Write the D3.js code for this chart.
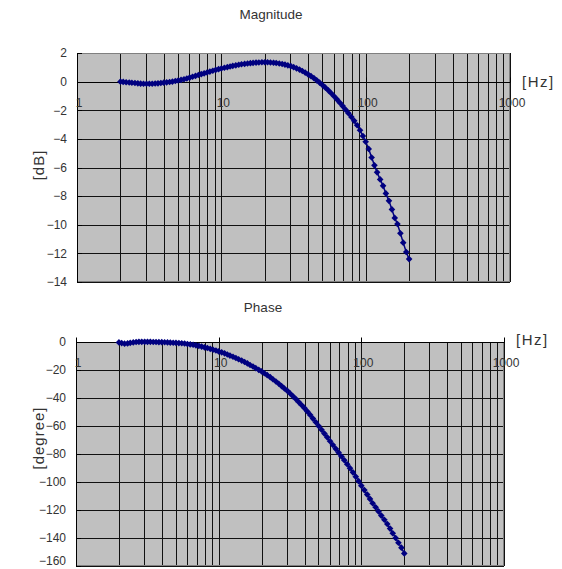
<!DOCTYPE html>
<html>
<head>
<meta charset="utf-8">
<script src="https://cdn.jsdelivr.net/npm/d3@7"></script>
<style>
  html, body { margin: 0; padding: 0; background: #fff; }
  svg { display: block; }
  text { font-family: "Liberation Sans", Arial, sans-serif; fill: #333; }
</style>
</head>
<body>
<svg id="chart" width="562" height="569"></svg>
<script>
// Measured sweep frequencies [Hz]
const freq = [
  2.00, 2.09, 2.19, 2.30, 2.40, 2.52, 2.64, 2.76, 2.89, 3.03,
  3.17, 3.32, 3.48, 3.64, 3.81, 3.99, 4.18, 4.38, 4.58, 4.80,
  5.02, 5.26, 5.51, 5.77, 6.04, 6.32, 6.62, 6.93, 7.26, 7.60,
  7.96, 8.33, 8.73, 9.14, 9.57, 10.0, 10.5, 11.0, 11.5, 12.0,
  12.6, 13.2, 13.8, 14.5, 15.2, 15.9, 16.6, 17.4, 18.2, 19.1,
  20.0, 20.9, 21.9, 23.0, 24.0, 25.2, 26.4, 27.6, 28.9, 30.3,
  31.7, 33.2, 34.8, 36.4, 38.1, 39.9, 41.8, 43.8, 45.8, 48.0,
  50.2, 52.6, 55.1, 57.7, 60.4, 63.2, 66.2, 69.3, 72.6, 76.0,
  79.6, 83.3, 87.3, 91.4, 95.7, 100, 105, 110, 115, 120,
  126, 132, 138, 145, 152, 159, 166, 174, 182, 191,
  200
];

// Gain [dB]
const magnitude = [
  0.00, -0.02, -0.04, -0.06, -0.08, -0.10, -0.12, -0.14, -0.15, -0.15,
  -0.15, -0.15, -0.13, -0.12, -0.10, -0.07, -0.05, -0.03, 0.00, 0.04,
  0.08, 0.12, 0.17, 0.22, 0.28, 0.34, 0.40, 0.46, 0.52, 0.58,
  0.64, 0.70, 0.76, 0.82, 0.87, 0.92, 0.97, 1.01, 1.06, 1.10,
  1.14, 1.18, 1.21, 1.24, 1.27, 1.29, 1.31, 1.33, 1.34, 1.35,
  1.35, 1.35, 1.34, 1.32, 1.30, 1.27, 1.23, 1.19, 1.14, 1.08,
  1.01, 0.93, 0.84, 0.74, 0.63, 0.51, 0.38, 0.24, 0.09, -0.07,
  -0.24, -0.42, -0.61, -0.81, -1.02, -1.24, -1.47, -1.71, -1.96, -2.21,
  -2.47, -2.74, -3.05, -3.40, -3.80, -4.20, -4.70, -5.30, -5.85, -6.34,
  -6.83, -7.28, -7.81, -8.33, -8.93, -9.52, -9.95, -10.60, -11.25, -11.90,
  -12.40
];

// Phase [degree]
const phase = [
  -0.3, -0.8, -1.2, -1.0, -0.6, -0.3, 0.0, 0.1, 0.1, 0.1,
  0.1, 0.1, 0.0, 0.0, -0.1, -0.1, -0.2, -0.3, -0.4, -0.5,
  -0.6, -0.8, -0.9, -1.1, -1.4, -1.7, -2.0, -2.4, -2.8, -3.3,
  -3.8, -4.3, -4.9, -5.5, -6.1, -6.7, -7.4, -8.1, -8.9, -9.7,
  -10.5, -11.4, -12.3, -13.3, -14.3, -15.3, -16.4, -17.5, -18.7, -19.9,
  -21.0, -22.3, -23.7, -25.1, -26.6, -28.2, -29.8, -31.5, -33.2, -34.9,
  -36.8, -38.8, -40.8, -42.9, -45.0, -47.2, -49.6, -52.1, -54.7, -57.3,
  -60.0, -62.7, -65.4, -68.1, -70.9, -73.6, -76.3, -79.0, -81.8, -84.5,
  -87.3, -90.1, -93.1, -96.2, -99.4, -102.6, -105.8, -109.0, -112.1, -115.2,
  -118.0, -121.0, -124.0, -127.0, -130.0, -133.3, -136.6, -140.0, -143.4, -146.9,
  -151.0
];

// Axis ticks
const xMajor = [1, 10, 100, 1000];
const xMajorLabels = ["1", "10", "100", "1000"];
const magTicks = [2, 0, -2, -4, -6, -8, -10, -12, -14];
const phaseTicks = [0, -20, -40, -60, -80, -100, -120, -140, -160];

const svg = d3.select("#chart");
const navy = "#000080";

// All 1..9 x 10^n grid frequencies across the three decades
const xGrid = [];
[1, 10, 100].forEach(d => { for (let m = 1; m <= 9; m++) xGrid.push(d * m); });
xGrid.push(1000);

function panel(opts) {
  const { left, right, top, bottom, yDomain, yTicks, values, title, titleX, titleY, yTitle, yTitleY, hzY } = opts;
  const x = d3.scaleLog().domain([1, 1000]).range([left, right]);
  const y = d3.scaleLinear().domain(yDomain).range([bottom, top]);
  const g = svg.append("g");

  // plot background
  g.append("rect")
    .attr("x", left).attr("y", top)
    .attr("width", right - left).attr("height", bottom - top)
    .attr("fill", "#c0c0c0");

  // vertical grid (log decades with minor lines)
  g.append("g").selectAll("line").data(xGrid).join("line")
    .attr("x1", d => Math.round(x(d)) + 0.5).attr("x2", d => Math.round(x(d)) + 0.5)
    .attr("y1", top).attr("y2", bottom)
    .attr("stroke", "#111").attr("stroke-width", 1);

  // horizontal grid
  g.append("g").selectAll("line").data(yTicks).join("line")
    .attr("x1", left).attr("x2", right)
    .attr("y1", d => Math.round(y(d)) + 0.5).attr("y2", d => Math.round(y(d)) + 0.5)
    .attr("stroke", "#111").attr("stroke-width", 1);

  // plot frame
  g.append("rect")
    .attr("x", left + 0.5).attr("y", top + 0.5)
    .attr("width", right - left - 1).attr("height", bottom - top - 1)
    .attr("fill", "none").attr("stroke", "#808080");
  g.append("line")
    .attr("x1", left + 0.5).attr("x2", left + 0.5)
    .attr("y1", top).attr("y2", bottom)
    .attr("stroke", "#000");

  // y axis ticks and labels (the lowest label is kept inside the page)
  g.append("g").selectAll("line").data(yTicks).join("line")
    .attr("x1", left).attr("x2", left + 5)
    .attr("y1", d => Math.round(y(d)) + 0.5).attr("y2", d => Math.round(y(d)) + 0.5)
    .attr("stroke", "#000");
  g.append("g").selectAll("text").data(yTicks).join("text")
    .attr("x", left - 10).attr("y", d => Math.min(y(d), 561))
    .attr("dy", "0.36em")
    .attr("text-anchor", "end")
    .attr("font-size", 12)
    .text(d => d < 0 ? "\u2212" + Math.abs(d) : String(d));

  // x axis along the 0 line
  const y0 = Math.round(y(0)) + 0.5;
  g.append("line")
    .attr("x1", left).attr("x2", right)
    .attr("y1", y0).attr("y2", y0)
    .attr("stroke", "#000");
  g.append("g").selectAll("line").data(xMajor).join("line")
    .attr("x1", d => Math.round(x(d)) + 0.5).attr("x2", d => Math.round(x(d)) + 0.5)
    .attr("y1", y0 - 5).attr("y2", y0)
    .attr("stroke", "#000");
  g.append("g").selectAll("text").data(xMajor).join("text")
    .attr("x", d => x(d) + 2).attr("y", y0 + 20)
    .attr("dy", "0.36em")
    .attr("text-anchor", "middle")
    .attr("font-size", 12)
    .text((d, i) => xMajorLabels[i]);

  // data line + diamond markers
  const pts = freq.map((f, i) => [x(f), y(values[i])]);
  g.append("path")
    .attr("d", d3.line()(pts))
    .attr("fill", "none").attr("stroke", navy).attr("stroke-width", 1.5);
  const diamond = d3.symbol().type(d3.symbolSquare).size(22);
  g.append("g").selectAll("path").data(pts).join("path")
    .attr("transform", d => `translate(${d[0]},${d[1]}) rotate(45)`)
    .attr("d", diamond)
    .attr("fill", navy);

  // titles
  svg.append("text")
    .attr("x", titleX).attr("y", titleY)
    .attr("text-anchor", "middle")
    .attr("font-size", 13.5)
    .text(title);
  svg.append("text")
    .attr("transform", `translate(44,${yTitleY}) rotate(-90)`)
    .attr("text-anchor", "middle")
    .attr("font-size", 15)
    .attr("letter-spacing", 1)
    .text(yTitle);
  svg.append("text")
    .attr("x", right + 12).attr("y", hzY)
    .attr("font-size", 15)
    .attr("letter-spacing", 1.5)
    .text("[Hz]");
}

panel({
  left: 77, right: 510, top: 53, bottom: 282,
  yDomain: [-14, 2], yTicks: magTicks, values: magnitude,
  title: "Magnitude", titleX: 271, titleY: 19,
  yTitle: "[dB]", yTitleY: 165, hzY: 87
});

panel({
  left: 76, right: 504, top: 342, bottom: 566,
  yDomain: [-160, 0], yTicks: phaseTicks, values: phase,
  title: "Phase", titleX: 263, titleY: 312,
  yTitle: "[degree]", yTitleY: 438, hzY: 345
});
</script>
</body>
</html>
